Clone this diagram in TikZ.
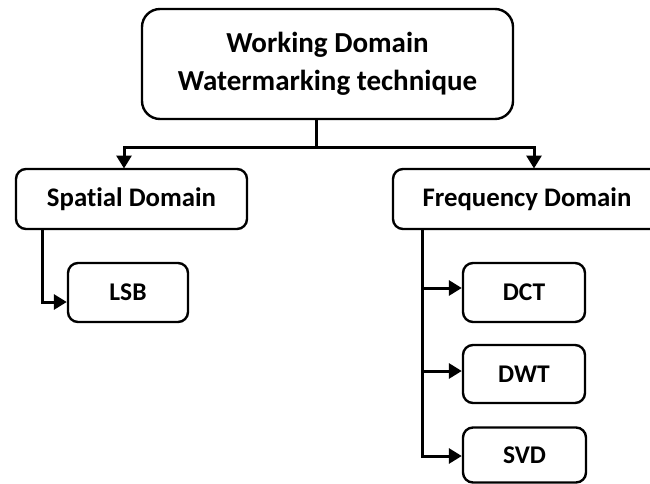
\documentclass[tikz,border=0pt]{standalone}
\usepackage{fontspec}
\setmainfont{Carlito}[Ligatures={NoCommon}]
\usetikzlibrary{arrows.meta}
\tikzset{
  box/.style={draw=black, line width=2.4pt, rounded corners=10pt, inner sep=0pt, align=center, font=\bfseries\fontsize{26.8}{30}\selectfont},
  topbox/.style={box, rounded corners=18pt, font=\bfseries\fontsize{29}{38}\selectfont},
  leafbox/.style={box, font=\bfseries\fontsize{25.5}{30}\selectfont},
  conn/.style={draw=black, line width=3pt},
  arr/.style={conn, -{Triangle[length=13pt,width=15pt]}}
}
\begin{document}
\begin{tikzpicture}[x=1pt,y=-1pt]
\useasboundingbox (0,0) rectangle (650,484);
\clip (0,0) rectangle (650,484);
% nodes
\node[topbox, minimum width=371pt, minimum height=110pt] (top) at (327.5,64) {Working Domain\\Watermarking technique};
\node[box, minimum width=231pt, minimum height=60pt] (spatial) at (131.5,199) {Spatial Domain};
\node[box, minimum width=268pt, minimum height=60pt] (freq) at (527,199) {Frequency Domain};
\node[leafbox, minimum width=120pt, minimum height=59pt] (lsb) at (128,292.5) {LSB};
\node[leafbox, minimum width=122pt, minimum height=59pt] (dct) at (524,292.5) {DCT};
\node[leafbox, minimum width=122pt, minimum height=58pt] (dwt) at (524,374) {DWT};
\node[leafbox, minimum width=123pt, minimum height=55pt] (svd) at (524.5,455) {SVD};
% coordinates
\coordinate (ts) at (316,119);
\coordinate (j) at (316,147);
\coordinate (sa) at (124,168.5);
\coordinate (fa) at (534,168.5);
\coordinate (ss) at (42,229);
\coordinate (fs) at (422,229);
% connectors
\draw[conn] (ts) -- (j);
\draw[arr] (j) -| (sa);
\draw[arr] (j) -| (fa);
\draw[arr] (ss) |- (lsb.west |- 0,302);
\draw[conn] (fs) -- (fs |- 0,456);
\draw[arr] (fs |- 0,288) -- (dct.west |- 0,288);
\draw[arr] (fs |- 0,371) -- (dwt.west |- 0,371);
\draw[arr] (fs) |- (svd.west |- 0,456);
\end{tikzpicture}
\end{document}
